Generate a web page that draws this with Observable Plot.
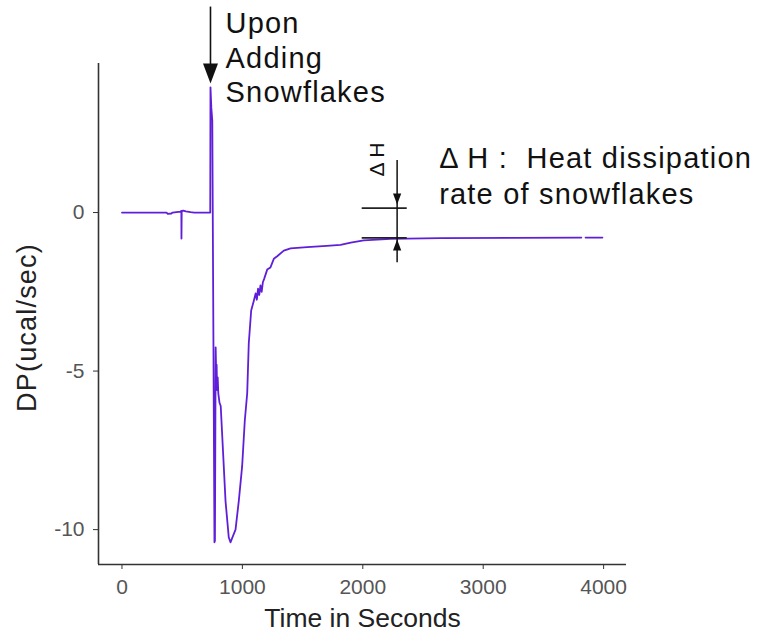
<!DOCTYPE html>
<html><head><meta charset="utf-8">
<script src="https://cdn.jsdelivr.net/npm/d3@7"></script>
<script src="https://cdn.jsdelivr.net/npm/@observablehq/plot@0.6"></script>
<style>
html,body{margin:0;padding:0;background:#fff;}
#chart svg{display:block;}
</style></head><body><div id="chart"></div>
<script>
// ---- data ----
const timeSec = [0,370,380,410,420, 485,493,494,496,510, 530,570,600,733,735, 742,750,768,772,778,
  782,786,790,795,800, 810,820,840,860,887, 901,943,970,998,1020, 1040,1053,1073,1095,1110,
  1120,1130,1140,1150,1160, 1170,1180,1206,1233,1261, 1289,1344,1400,1538,1700,
  1815,1900,2008,2230,2645, 3240,3815,3830,3850,3990];
const dpValues = [0,0,-0.04,-0.03,0, 0.03,0.05,-0.82,0.05,0.06, 0.04,0.01,0,0,3.95, 3.3,2.9,-10.4,-10.35,-4.25,
  -5.0,-4.8,-5.6,-5.2,-5.7, -6.0,-6.1,-7.6,-9.1,-10.25, -10.4,-10.0,-9.1,-8.0,-6.56, -5.7,-4.13,-3.09,-2.78,-2.55,
  -2.75,-2.4,-2.6,-2.3,-2.5, -2.2,-2.1,-1.8,-1.73,-1.46, -1.38,-1.2,-1.13,-1.09,-1.05,
  -1.02,-0.95,-0.88,-0.83,-0.81, -0.8,-0.79,null,-0.79,-0.79];

const xTicks = [0,1000,2000,3000,4000];
const xTickLabels = ["0","1000","2000","3000","4000"];
const yTicks = [-10,-5,0];
const yTickLabels = ["-10","-5","0"];
const xDomain = [-195, 4190];
const yDomain = [-11.1, 4.7];
const xTitle = "Time in Seconds";
const yTitle = "DP(ucal/sec)";

// annotation: injection arrow
const injectTime = [735];
const injectArrowTop = 6.48;
const injectArrowTip = 4.07;
const injectText = ["Upon\nAdding\nSnowflakes"];
const injectTextPos = {t: 860, dp: 6.45};

// annotation: delta H
const dhTime = [2285];
const dhLevels = [0.14, -0.8];
const dhBar = {from: 1995, to: 2369};
const dhLine = {top: 1.64, bottom: -1.58};
const dhTipDown = 0.25, dhTipUp = -0.85;
const dhSymbolText = ["Δ H"];
const dhSymbolPos = {t: 2120, dp: 1.67};
const dhNote = ["Δ H :\u00a0 Heat dissipation\nrate of snowflakes"];
const dhNotePos = {t: 2634, dp: 2.24};

// ---- build ----
const series = timeSec.map((t, i) => ({t, dp: dpValues[i]}));
const font = '"Liberation Sans", Arial, sans-serif';
const ink = "#111";

// filled arrowhead with its tip at the origin, pointing down
const arrowHead = {
  draw(ctx, size) {
    const r = Math.sqrt(size / Math.PI);
    ctx.moveTo(0, 0);
    ctx.lineTo(-0.75 * r, -2 * r);
    ctx.lineTo(0.75 * r, -2 * r);
    ctx.closePath();
  }
};

const chart = Plot.plot({
  width: 759, height: 637,
  marginLeft: 98, marginRight: 133, marginTop: 63, marginBottom: 73,
  style: {fontFamily: font, background: "#fff", overflow: "visible"},
  x: {domain: xDomain},
  y: {domain: yDomain},
  marks: [
    Plot.ruleX([xDomain[0]], {stroke: "#333", strokeWidth: 1.6}),
    Plot.ruleY([yDomain[0]], {stroke: "#333", strokeWidth: 1.6}),
    Plot.axisX({ticks: xTicks, tickSize: 5, tickPadding: 10, fontSize: 21,
      stroke: "#333", fill: "#555", label: null,
      tickFormat: d => xTickLabels[xTicks.indexOf(d)]}),
    Plot.axisY({ticks: yTicks, tickSize: 5, tickPadding: 9, fontSize: 21,
      stroke: "#333", fill: "#555", label: null,
      tickFormat: d => yTickLabels[yTicks.indexOf(d)]}),
    Plot.text([xTitle], {frameAnchor: "bottom", dy: 44, lineAnchor: "top",
      fontSize: 26.5, fill: "#222"}),
    Plot.text([yTitle], {frameAnchor: "left", rotate: -90, dx: -71, dy: 13.5,
      textAnchor: "middle", lineAnchor: "middle", fontSize: 27, fill: "#222"}),
    Plot.line(series, {x: "t", y: "dp", stroke: "#5f1fd9", strokeWidth: 1.8}),
    // injection arrow
    Plot.ruleX(injectTime, {y1: injectArrowTop, y2: injectArrowTip + 0.3, stroke: ink, strokeWidth: 1.6}),
    Plot.dot(injectTime, {x: d => d, y: () => injectArrowTip, symbol: arrowHead, r: 10, fill: ink, stroke: null}),
    Plot.text(injectText, {x: () => injectTextPos.t, y: () => injectTextPos.dp, textAnchor: "start",
      lineAnchor: "top", lineHeight: 1.2, fontSize: 29, fill: ink}),
    // delta H
    Plot.ruleY(dhLevels, {x1: dhBar.from, x2: dhBar.to, stroke: "#222", strokeWidth: 1.6}),
    Plot.ruleX(dhTime, {y1: dhLine.top, y2: dhLine.bottom, stroke: ink, strokeWidth: 1.5}),
    Plot.dot(dhTime, {x: d => d, y: () => dhTipDown, symbol: arrowHead, r: 5.5, fill: ink, stroke: null}),
    Plot.dot(dhTime, {x: d => d, y: () => dhTipUp, symbol: arrowHead, r: 5.5, rotate: 180, fill: ink, stroke: null}),
    Plot.text(dhSymbolText, {x: () => dhSymbolPos.t, y: () => dhSymbolPos.dp, rotate: -90,
      textAnchor: "middle", lineAnchor: "middle", fontSize: 21, fill: ink}),
    Plot.text(dhNote, {x: () => dhNotePos.t, y: () => dhNotePos.dp, textAnchor: "start",
      lineAnchor: "top", lineHeight: 1.265, fontSize: 29, fill: ink})
  ]
});
// widen the annotation and y-title lettering to match the reference
const spaced = new Set([yTitle, ...injectText[0].split("\n"), ...dhNote[0].split("\n")]);
chart.querySelectorAll("text, tspan").forEach(el => {
  if (spaced.has(el.textContent)) el.style.letterSpacing = "1.2px";
});
document.getElementById("chart").appendChild(chart);
</script>
</body></html>
